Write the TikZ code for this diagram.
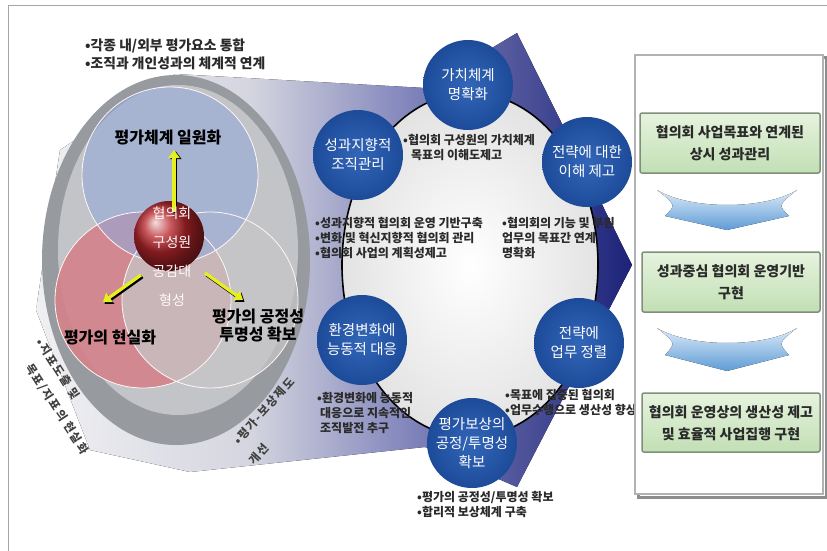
\documentclass[tikz,border=0pt]{standalone}
\usepackage{fontspec}
\newfontfamily\kr{Noto Sans CJK KR}
\usetikzlibrary{arrows.meta,shapes.geometric}
\definecolor{cblue}{HTML}{1D4B9A}
\definecolor{cbluel}{HTML}{3366B8}
\definecolor{ringd}{HTML}{979A9E}
\definecolor{ringl}{HTML}{C3C4C8}
\definecolor{vblue}{HTML}{93A8D8}
\definecolor{vpink}{HTML}{D4828A}
\definecolor{vgray}{HTML}{C6C6C8}
\definecolor{ca}{HTML}{F0F0F3}
\definecolor{cb}{HTML}{D4D5DF}
\definecolor{cc}{HTML}{7D81B9}
\definecolor{cd}{HTML}{1C2278}
\definecolor{txt}{HTML}{2A2A2A}
\definecolor{gtop}{HTML}{E6F3DE}
\definecolor{gbot}{HTML}{C2DFB4}
\definecolor{gline}{HTML}{7F8F7C}
\definecolor{atop}{HTML}{DCEBF8}
\definecolor{abot}{HTML}{5E9BD6}
\definecolor{yel}{HTML}{E6F01E}
\definecolor{ballc}{HTML}{B8262C}
\pgfdeclarehorizontalshading{cone}{100bp}{color(0bp)=(ca); color(25bp)=(ca); color(43bp)=(cb); color(57bp)=(cc); color(75bp)=(cd); color(100bp)=(cd)}
\tikzset{
  bluec/.style={circle, minimum size=90pt, inner sep=0pt, inner color=cbluel, outer color=cblue, text=white, align=center, font=\kr\fontsize{14.5}{19}\selectfont},
  bul/.style={anchor=west, inner sep=0pt, text=txt, align=left, font=\kr\bfseries\fontsize{12}{15}\selectfont},
  gbox/.style={draw=gline, line width=1.5pt, top color=gtop, bottom color=gbot, rounded corners=2pt},
  gtext/.style={text=txt, align=center, inner sep=0pt, font=\kr\bfseries\fontsize{14}{22}\selectfont},
  title/.style={text=black, align=center, inner sep=0pt, font=\kr\bfseries\fontsize{16}{18}\selectfont},
  rot/.style={text=black!75, inner sep=0pt, font=\kr\bfseries\fontsize{11.5}{13}\selectfont\addfontfeature{LetterSpace=14}},
  chev/.style={top color=atop, bottom color=abot, draw=none},
  yarrow/.style={line width=3.2pt, yel, -{Triangle[length=8pt,width=11pt]}},
  sarrow/.style={line width=3.2pt, black, -{Triangle[length=8pt,width=11pt]}}
}
\begin{document}
\begin{tikzpicture}[x=1pt,y=-1pt]
\useasboundingbox (0,0) rectangle (827,551);
\fill[white] (0,0) rectangle (827,551);
% frame lines
\draw[black!35, line width=0.8pt] (8,551) -- (8,5) -- (827,5);
% cone / big arrow
\fill[shading=cone] (175,74) -- (425,88) -- (517,33) -- (632,265) -- (517,487) -- (425,447) -- (190,472) -- (90,450) -- (36,310) -- (60,150) -- cycle;
% left disc
\fill[ringd] (176,260) ellipse [x radius=134, y radius=185];
\fill[ringl] (178,250) ellipse [x radius=120, y radius=165];
\fill[vpink, fill opacity=0.9] (143,300) circle [radius=88];
\fill[vgray, fill opacity=0.75] (210,300) circle [radius=88];
\fill[vblue, fill opacity=0.6] (170,175) circle [radius=88];
\draw[white!85!pink, line width=0.8pt] (143,300) circle [radius=88] (210,300) circle [radius=88] (170,175) circle [radius=88];
\shade[ball color=ballc] (169,236) circle [radius=35];
% arrows
\coordinate (au0) at (174,212); \coordinate (au1) at (174,150);
\coordinate (al0) at (141,275); \coordinate (al1) at (103,302);
\coordinate (ar0) at (205,273); \coordinate (ar1) at (243,300);
\draw[sarrow] ([shift={(1.8,1.2)}]au0) -- ([shift={(1.8,1.2)}]au1);
\draw[sarrow] ([shift={(1.5,1.8)}]al0) -- ([shift={(1.5,1.8)}]al1);
\draw[sarrow] ([shift={(1.5,1.8)}]ar0) -- ([shift={(1.5,1.8)}]ar1);
\draw[yarrow] (au0) -- (au1);
\draw[yarrow] (al0) -- (al1);
\draw[yarrow] (ar0) -- (ar1);
% disc texts
\node[text=white!90!pink, inner sep=0pt, align=center, font=\kr\fontsize{14}{29}\selectfont] (core) at (172,257) {협의회\\구성원\\공감대\\형성};
\node[title] (t1) at (168,138) {평가체계 일원화};
\node[title] (t2) at (110,337) {평가의 현실화};
\node[title] (t3) at (258,326) {평가의 공정성\\투명성 확보};
% top text
\node[anchor=west, inner sep=0pt, text=txt, align=left, font=\kr\bfseries\fontsize{13.8}{18}\selectfont] (top) at (85,54) {•각종 내/외부 평가요소 통합\\•조직과 개인성과의 체계적 연계};
% rotated texts
\node[rot, rotate=-57] (r1) at (58,369) {•지표도출 및};
\node[rot, rotate=-57] (r2) at (57,409) {목표/지표의 현실화};
\node[rot, rotate=48] (r3) at (264,411) {•평가-보상제도};
\node[rot, rotate=48] (r4) at (259,454) {개선};
% central ellipse
\draw[line width=1.6pt, black, inner color=white, outer color=black!11] (470,265) ellipse [x radius=128, y radius=172];
% blue circles
\node[bluec] (c1) at (468,85) {가치체계\\명확화};
\node[bluec] (c2) at (358,155) {성과지향적\\조직관리};
\node[bluec] (c3) at (587,162) {전략에 대한\\이해 제고};
\node[bluec] (c4) at (362,340) {환경변화에\\능동적 대응};
\node[bluec] (c5) at (579,343) {전략에\\업무 정렬};
\node[bluec] (c6) at (472,443) {평가보상의\\공정/투명성\\확보};
% bullets
\node[bul] (b1) at (403,147) {•협의회 구성원의 가치체계\\\hspace*{8pt}목표의 이해도제고};
\node[bul] (b2) at (315,238) {•성과지향적 협의회 운영 기반구축\\•변화 및 혁신지향적 협의회 관리\\•협의회 사업의 계획성제고};
\node[bul] (b3) at (502,238) {•협의회의 기능 및 부원\\업무의 목표간 연계\\명확화};
\node[bul] (b4) at (317,413) {•환경변화에 능동적\\\hspace*{3pt}대응으로 지속적인\\\hspace*{3pt}조직발전 추구};
\node[bul] (b5) at (505,402) {•목표에 집중된 협의회\\•업무수행으로 생산성 향상};
\node[bul] (b6) at (417,504) {•평가의 공정성/투명성 확보\\•합리적 보상체계 구축};
% right panel
\draw[black!45, line width=3pt] (638,58) rectangle (826,497);
\draw[black!30, line width=2pt, fill=white] (635,55) rectangle (823,494);
\draw[gbox] (640,113) rectangle (820,173);
\node[gtext] (g1) at (730,143) {협의회 사업목표와 연계된\\상시 성과관리};
\draw[gbox] (642,252) rectangle (820,312);
\node[gtext] (g2) at (731,282) {성과중심 협의회 운영기반\\구현};
\draw[gbox] (642,393) rectangle (820,452);
\node[gtext] (g3) at (731,423) {협의회 운영상의 생산성 제고\\및 효율적 사업집행 구현};
% chevrons
\fill[chev] (657,190) .. controls (690,210) and (765,210) .. (797,190) .. controls (778,205) .. (789,216) -- (727,230) -- (665,216) .. controls (676,205) .. (657,190) -- cycle;
\fill[chev] (657,328) .. controls (690,348) and (765,348) .. (797,328) .. controls (778,343) .. (789,355) -- (727,371) -- (665,355) .. controls (676,343) .. (657,328) -- cycle;
\end{tikzpicture}
\end{document}
